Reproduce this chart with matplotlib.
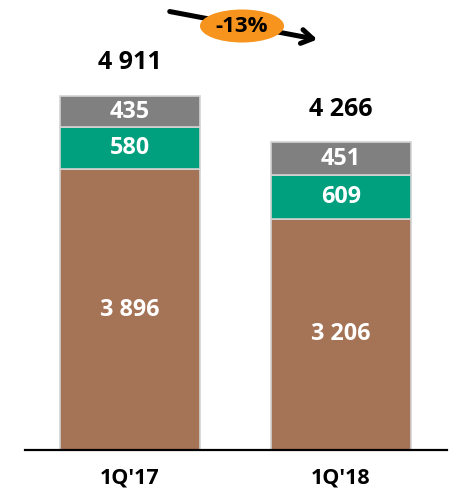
import matplotlib.pyplot as plt
from matplotlib.patches import Ellipse
import numpy as np

plt.rcParams['font.family'] = ['Open Sans', 'DejaVu Sans']

# quarterly volumes, stacked bottom to top
quarters = ["1Q'17", "1Q'18"]
brown_vals = [3896, 3206]
green_vals = [580, 609]
gray_vals = [435, 451]
totals = [4911, 4266]
change_label = '-13%'

brown = '#A57355'
green = '#00A07F'
gray = '#808080'
orange = '#F7941D'

fig = plt.figure(figsize=(4.5, 4.93), dpi=100)
ax = fig.add_axes([25 / 450, 43 / 493, 422 / 450, 450 / 493])

x = np.arange(len(quarters))
width = 0.6635
edge = dict(edgecolor='#D3D3D3', linewidth=1.2)

b1 = ax.bar(x, brown_vals, width, color=brown, **edge)
bottom2 = np.array(brown_vals)
b2 = ax.bar(x, green_vals, width, bottom=bottom2, color=green, **edge)
bottom3 = bottom2 + np.array(green_vals)
b3 = ax.bar(x, gray_vals, width, bottom=bottom3, color=gray, **edge)

def fmt(v):
    return '{:,}'.format(v).replace(',', ' ')

# white labels in the middle of each segment
for bars, vals, bottoms in [(b1, brown_vals, np.zeros(2)), (b2, green_vals, bottom2), (b3, gray_vals, bottom3)]:
    for xi, v, b in zip(x, vals, bottoms):
        ax.text(xi, b + v / 2, fmt(v), ha='center', va='center', color='white',
                fontsize=16.8, fontweight='bold')

# totals above the stacks
for xi, t in zip(x, totals):
    ax.annotate(fmt(t), (xi, t), xytext=(0, 24), textcoords='offset points',
                ha='center', va='center', fontsize=18, fontweight='bold', color='black')

# category labels under the axis line
for xi, q in zip(x, quarters):
    ax.annotate(q, (xi, 0), xytext=(0, -20.5), textcoords='offset points',
                ha='center', va='center', fontsize=15.5, fontweight='bold', color='black')

ax.set_xlim(-0.4976, 1.502)
ax.set_ylim(0, 450 / 354 * totals[0])
for s in ['top', 'left', 'right']:
    ax.spines[s].set_visible(False)
ax.spines['bottom'].set_linewidth(1.6)
ax.spines['bottom'].set_color('black')
ax.set_xticks([])
ax.set_yticks([])

# change arrow with orange badge
ax.annotate('', xy=(320, 493 - 40), xycoords='figure pixels',
            xytext=(167, 493 - 11), textcoords='figure pixels',
            arrowprops=dict(arrowstyle='->,head_length=0.8,head_width=0.5',
                            color='black', lw=3.6))
badge = Ellipse((242 / 450, 1 - 26 / 493), 84 / 450, 33 / 493,
                transform=fig.transFigure, facecolor=orange, edgecolor='none', zorder=5)
fig.add_artist(badge)
fig.text(242 / 450, 1 - 26 / 493, change_label, ha='center', va='center',
         fontsize=16, fontweight='bold', color='black', zorder=6)

fig.savefig('out.png', dpi=100)
